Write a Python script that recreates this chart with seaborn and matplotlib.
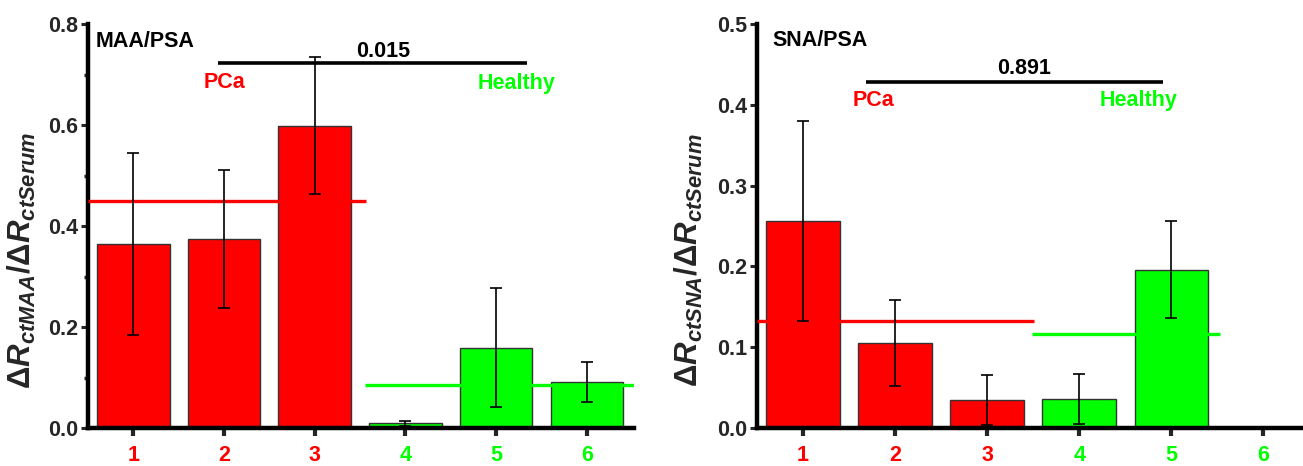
import numpy as np
import pandas as pd
import matplotlib
matplotlib.use("Agg")
import matplotlib.pyplot as plt
import seaborn as sns

# ---- data ----
samples = [1, 2, 3, 4, 5, 6]
groups = ["PCa", "PCa", "PCa", "Healthy", "Healthy", "Healthy"]
maa_values = [0.365, 0.374, 0.599, 0.009, 0.159, 0.091]
maa_errors = [0.180, 0.137, 0.136, 0.005, 0.118, 0.040]
sna_values = [0.256, 0.105, 0.035, 0.036, 0.196, np.nan]
sna_errors = [0.124, 0.053, 0.031, 0.031, 0.060, np.nan]
maa_means = {"PCa": 0.449, "Healthy": 0.085}
sna_means = {"PCa": 0.132, "Healthy": 0.116}
maa_p = "0.015"
sna_p = "0.891"
maa_yticks = [0.0, 0.2, 0.4, 0.6, 0.8]
sna_yticks = [0.0, 0.1, 0.2, 0.3, 0.4, 0.5]

RED = "#FF0000"
GREEN = "#00FF00"
palette = {"PCa": RED, "Healthy": GREEN}

sns.set_theme(style="ticks")
plt.rcParams["font.family"] = ["Liberation Sans", "DejaVu Sans"]
plt.rcParams["font.weight"] = "bold"
plt.rcParams["mathtext.fontset"] = "custom"
plt.rcParams["mathtext.rm"] = "Liberation Sans:bold"
plt.rcParams["mathtext.it"] = "Liberation Sans:bold:italic"
plt.rcParams["mathtext.bf"] = "Liberation Sans:bold"

FS = 15.5
fig = plt.figure(figsize=(13.03, 4.66), dpi=100)
axL = fig.add_axes([88/1303, 1-428/466, (634-88)/1303, (428-24)/466])
axR = fig.add_axes([757/1303, 1-428/466, (1303-757)/1303, (428-24)/466])


def panel(ax, vals, errs, means, ylim, yticks, ylab, title, pval,
          xlim, red_span, green_span, sig_span, sig_y, p_xy, pca_xy, hl_xy,
          title_xy, minor, label_x):
    df = pd.DataFrame({"sample": samples, "value": vals, "group": groups})
    sns.barplot(data=df, x="sample", y="value", hue="group", palette=palette,
                native_scale=True, dodge=False, width=0.8, errorbar=None,
                edgecolor="#333333", linewidth=1.0, legend=False, ax=ax,
                saturation=1)
    ax.errorbar(samples, vals, yerr=errs, fmt="none", ecolor="black",
                elinewidth=1.2, capsize=4, capthick=1.2, zorder=5)
    ax.hlines(means["PCa"], red_span[0], red_span[1], color=RED, lw=2.4, zorder=4)
    ax.hlines(means["Healthy"], green_span[0], green_span[1], color=GREEN, lw=2.4, zorder=4)
    ax.hlines(sig_y, sig_span[0], sig_span[1], color="black", lw=2.6, zorder=4)
    ax.text(p_xy[0], p_xy[1], pval, ha="center", va="center", fontsize=FS,
            fontweight="bold", color="black")
    ax.text(pca_xy[0], pca_xy[1], "PCa", ha="center", va="center", fontsize=FS,
            fontweight="bold", color=RED)
    ax.text(hl_xy[0], hl_xy[1], "Healthy", ha="center", va="center", fontsize=FS,
            fontweight="bold", color=GREEN)
    ax.text(title_xy[0], title_xy[1], title, ha="left", va="center", fontsize=FS,
            fontweight="bold", color="black")

    ax.set_xlim(*xlim)
    ax.set_ylim(*ylim)
    ax.set_xticks(samples)
    ax.set_xticklabels([str(s) for s in samples])
    for lab, g in zip(ax.get_xticklabels(), groups):
        lab.set_color(palette[g])
        lab.set_fontweight("bold")
        lab.set_fontsize(FS)
    ax.set_yticks(yticks)
    ax.set_yticklabels([f"{t:.1f}" for t in yticks], fontsize=FS, fontweight="bold")
    if minor is not None:
        ax.set_yticks(minor, minor=True)
        ax.tick_params(axis="y", which="minor", length=3, width=2.5, direction="out")
    ax.set_xlabel("")
    ax.set_ylabel(ylab, fontsize=22.5)
    ax.yaxis.set_label_coords(label_x, 0.415)
    ax.tick_params(axis="x", which="major", length=6, width=3, pad=6)
    ax.tick_params(axis="y", which="major", length=5, width=2.2, pad=2)
    for s in ["left", "bottom"]:
        ax.spines[s].set_linewidth(3.2)
        ax.spines[s].set_color("black")
    for s in ["top", "right"]:
        ax.spines[s].set_visible(False)
    ax.grid(False)


panel(axL, maa_values, maa_errors, maa_means, (0, 0.8), maa_yticks,
      r"$\Delta R_{ctMAA}/\Delta R_{ctSerum}$", "MAA/PSA", maa_p,
      xlim=(0.5, 6.52), red_span=(0.5, 3.57), green_span=(3.55, 6.52),
      sig_span=(1.93, 5.34), sig_y=0.722, p_xy=(3.76, 0.745),
      pca_xy=(2.01, 0.685), hl_xy=(5.22, 0.683), title_xy=(0.58, 0.766),
      minor=[0.1, 0.3, 0.5, 0.7], label_x=-0.092)

panel(axR, sna_values, sna_errors, sna_means, (0, 0.5), sna_yticks,
      r"$\Delta R_{ctSNA}/\Delta R_{ctSerum}$", "SNA/PSA", sna_p,
      xlim=(0.5, 6.43), red_span=(0.5, 3.51), green_span=(3.49, 5.53),
      sig_span=(1.68, 4.91), sig_y=0.428, p_xy=(3.40, 0.445),
      pca_xy=(1.77, 0.405), hl_xy=(4.64, 0.405), title_xy=(0.67, 0.479),
      minor=None, label_x=-0.095)

fig.savefig("out.png", dpi=100)
